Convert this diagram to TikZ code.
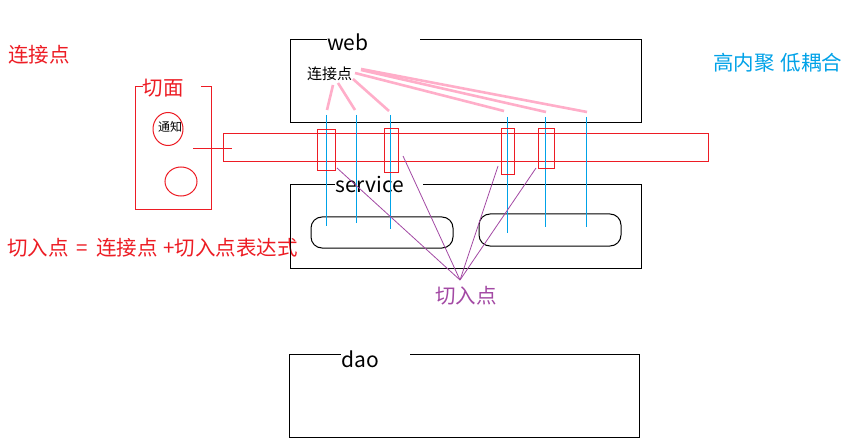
\documentclass[tikz,border=0pt]{standalone}
\usepackage{fontspec}
\setmainfont{Noto Sans CJK SC}
\definecolor{pRed}{RGB}{237,28,36}
\definecolor{pBlue}{RGB}{0,162,232}
\definecolor{pPink}{RGB}{255,174,201}
\definecolor{pPurple}{RGB}{163,73,164}
\begin{document}
\begin{tikzpicture}[x=1pt,y=-1pt,
  box/.style={line width=1pt,black},
  redl/.style={line width=1pt,pRed},
  blu/.style={line width=1pt,pBlue},
  pinkl/.style={line width=2.6pt,pPink},
  purp/.style={line width=0.8pt,pPurple},
  lbl/.style={inner sep=0pt,font=\fontsize{20.5}{20.5}\selectfont},
  latin/.style={inner sep=0pt,font=\fontsize{21}{21}\selectfont},
  small/.style={inner sep=0pt,font=\fontsize{15}{15}\selectfont},
  tiny/.style={inner sep=0pt,font=\fontsize{12}{12}\selectfont},
  rbox/.style={draw=pRed,line width=1pt,inner sep=0pt,minimum width=#1},
]
\useasboundingbox[fill=white] (0,0) rectangle (850,446);

% free texts
\node[lbl,text=pRed,anchor=west] (tl) at (8,55) {连接点};
\node[lbl,text=pRed,anchor=west] (formula) at (7,248) {切入点\hspace{8pt}=\hspace{8pt}连接点\hspace{6pt}+切入点表达式};
\node[lbl,text=pBlue,anchor=west] (coh) at (713,63) {高内聚\hspace{6pt}低耦合};

% aspect box
\node[lbl,text=pRed] (qm) at (163,88) {切面};
\draw[redl] (143,87) -- (135,87) -- (135,210) -- (211,210) -- (211,87) -- (201,87);
\draw[redl] (168,129) ellipse (15 and 16.5);
\node[tiny] (tz) at (170,127) {通知};
\draw[redl] (181,181.5) ellipse (16 and 14.5);

% web box
\node[latin,anchor=base west] (web) at (327,51) {web};
\draw[box] (327,40) -- (290,40) -- (290,123) -- (641,123) -- (641,40) -- (420,40);
\node[small] (wl) at (329.5,74) {连接点};

% service box
\node[latin,anchor=base west] (svc) at (335,193) {service};
\draw[box] (335,185) -- (290,185) -- (290,268) -- (641,268) -- (641,185) -- (423,185);
\draw[box,rounded corners=11pt] (311,217) rectangle (453,248);
\draw[box,rounded corners=11pt] (479,214) rectangle (621,246);

% dao box
\node[latin,anchor=base west] (dao) at (341,367) {dao};
\draw[box] (341,354) -- (289,354) -- (289,437) -- (639,437) -- (639,354) -- (410,354);

% band
\draw[redl] (223,134) rectangle (708,162);
\coordinate (cl) at (193,149);
\coordinate (cr) at (232,149);
\draw[redl] (cl) -- (cr);

% blue join points
\coordinate (b1t) at (326,115); \coordinate (b1b) at (326,226);
\coordinate (b2t) at (356,115); \coordinate (b2b) at (356,223);
\coordinate (b3t) at (390,115); \coordinate (b3b) at (390,229);
\coordinate (b4t) at (507,117); \coordinate (b4b) at (507,233);
\coordinate (b5t) at (545,117); \coordinate (b5b) at (545,227);
\coordinate (b6t) at (586,117); \coordinate (b6b) at (586,227);
\foreach \i in {1,...,6}{\draw[blu] (b\i t) -- (b\i b);}

% red pointcut boxes
\node[rbox=18pt,minimum height=41pt] (r1) at (326,150.5) {};
\node[rbox=14pt,minimum height=44pt] (r2) at (391,151) {};
\node[rbox=13pt,minimum height=46pt] (r3) at (507.5,152) {};
\node[rbox=16pt,minimum height=40pt] (r4) at (546,149) {};

% pink lines
\coordinate (p1s) at (333,85);  \coordinate (p1e) at (327,110);
\coordinate (p2s) at (338,83);  \coordinate (p2e) at (355,110);
\coordinate (p3s) at (353,79);  \coordinate (p3e) at (389,111);
\coordinate (p4s) at (355,73);  \coordinate (p4e) at (504,111);
\coordinate (p5s) at (361,70);  \coordinate (p5e) at (546,112);
\coordinate (p6s) at (361,69);  \coordinate (p6e) at (587,112);
\foreach \i in {1,...,6}{\draw[pinkl] (p\i s) -- (p\i e);}

% purple lines
\node[lbl,text=pPurple] (jr) at (466,296) {切入点};
\coordinate (jp) at (460,280);
\coordinate (q1) at (337,168);
\coordinate (q2) at (403,156);
\coordinate (q3) at (498,166);
\coordinate (q4) at (536,168);
\foreach \i in {1,...,4}{\draw[purp] (q\i) -- (jp);}
\end{tikzpicture}
\end{document}
